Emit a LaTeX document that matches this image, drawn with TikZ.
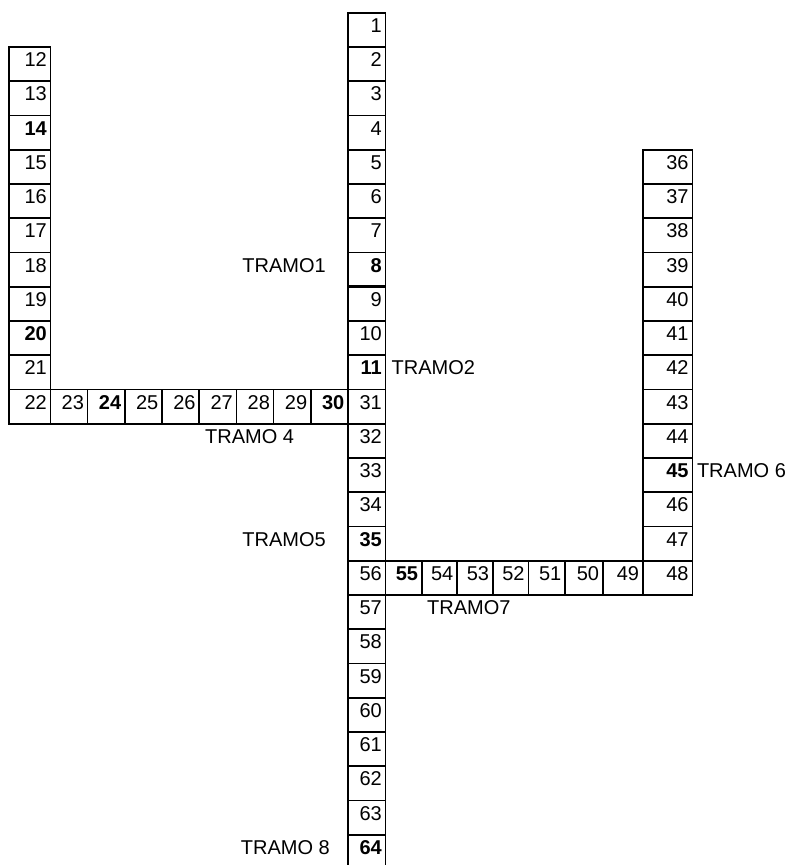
\documentclass[tikz,border=0pt]{standalone}
\usepackage{fontspec}
\setmainfont{Liberation Sans}
\begin{document}
\begin{tikzpicture}[x=1pt,y=-1pt,
  cell/.style={draw, line width=1.6pt, inner sep=0pt, outer sep=0pt, anchor=north west, minimum height=34.25pt},
  num/.style={anchor=base east, inner sep=0pt, font=\fontsize{20}{21}\selectfont},
  tramo/.style={inner sep=0pt, font=\fontsize{20}{21}\selectfont}]
\useasboundingbox (0,0) rectangle (789,865);
\newcommand\cellbox[5]{%
  \node[cell, minimum width=#4pt] (c#1) at ({#2},{#3}) {};
  \node[num] (t#1) at ([xshift=-3.5pt,yshift=-19.7pt]c#1.north east) {#5};}
% main column
\foreach \n/\t [count=\i from 0] in {1/1,2/2,3/3,4/4,5/5,6/6,7/7,8/\textbf{8},9/9,10/10,11/\textbf{11},
  31/31,32/32,33/33,34/34,35/\textbf{35},56/56,57/57,58/58,59/59,60/60,61/61,62/62,63/63,64/\textbf{64}}
  {\cellbox{\n}{348}{12.7+\i*34.25}{37.5}{\t}}
% left column
\foreach \n/\t in {12/12,13/13,14/\textbf{14},15/15,16/16,17/17,18/18,19/19,20/\textbf{20},21/21}
  {\cellbox{\n}{9}{389.45-(22-\n)*34.25}{41.5}{\t}}
% row 22-30
\cellbox{22}{9}{389.45}{41.5}{22}
\foreach \n/\t in {23/23,24/\textbf{24},25/25,26/26,27/27,28/28,29/29,30/\textbf{30}}
  {\cellbox{\n}{50.5+(\n-23)*37.19}{389.45}{37.19}{\t}}
% row 56-48
\foreach \n/\x/\w/\t in {55/385.5/36.2/\textbf{55},54/421.7/35.3/54,53/457/35.7/53,52/492.7/35.6/52,
  51/528.3/36.7/51,50/565/37.7/50,49/602.7/40/49,48/642.7/49.6/48}
  {\cellbox{\n}{\x}{560.7}{\w}{\t}}
% right column
\foreach \n/\t in {36/36,37/37,38/38,39/39,40/40,41/41,42/42,43/43,44/44,45/\textbf{45},46/46,47/47}
  {\cellbox{\n}{642.7}{560.7-(48-\n)*34.25}{49.6}{\t}}
% thicker line under 8
\draw[line width=2.6pt] (c8.south west) -- (c8.south east);
% labels
\node[tramo, anchor=base east] (l1) at ([xshift=-22pt,yshift=-19.7pt]c8.north west) {TRAMO1};
\node[tramo, anchor=base west] (l2) at ([xshift=6pt,yshift=-19.7pt]c11.north east) {TRAMO2};
\node[tramo, anchor=base west] (l4) at ([xshift=-143pt,yshift=-19.7pt]c32.north west) {TRAMO 4};
\node[tramo, anchor=base east] (l5) at ([xshift=-22pt,yshift=-19.7pt]c35.north west) {TRAMO5};
\node[tramo, anchor=base west] (l6) at ([xshift=4.5pt,yshift=-19.7pt]c45.north east) {TRAMO 6};
\node[tramo, anchor=base west] (l7) at ([xshift=41.5pt,yshift=-19.7pt]c57.north east) {TRAMO7};
\node[tramo, anchor=base east] (l8) at ([xshift=-18pt,yshift=-19.7pt]c64.north west) {TRAMO 8};
\end{tikzpicture}
\end{document}
